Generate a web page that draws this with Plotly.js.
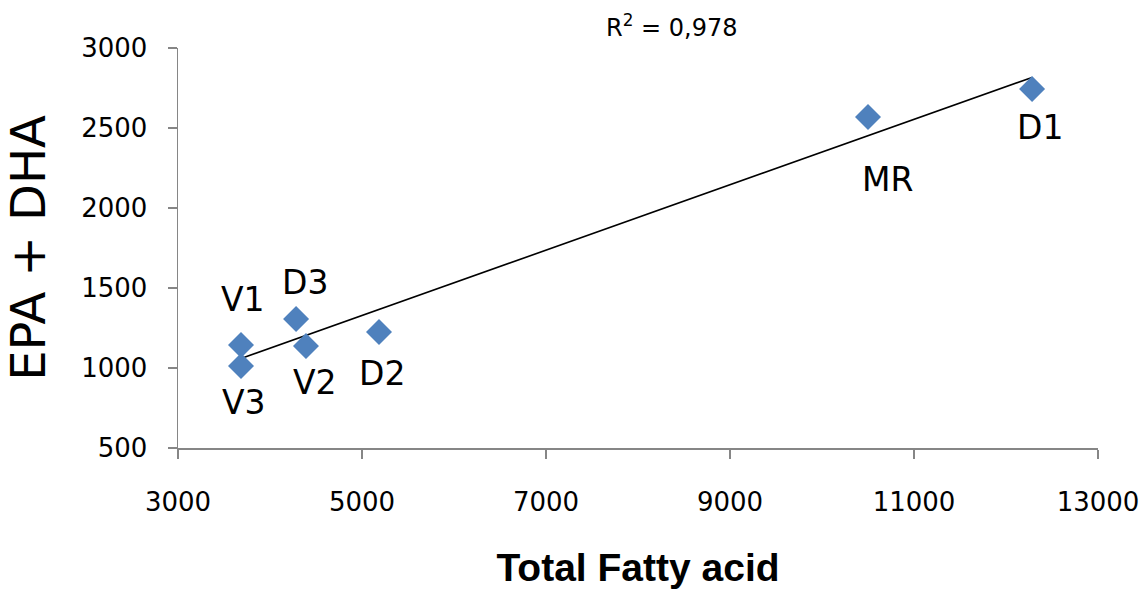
<!DOCTYPE html>
<html>
<head>
<meta charset="utf-8">
<script src="https://cdn.plot.ly/plotly-3.0.1.min.js"></script>
<style>html,body{margin:0;padding:0;background:#fff;}#chart{width:1146px;height:593px;}</style>
</head>
<body>
<div id="chart"></div>
<script>
// Data
const sampleNames = ["V1", "V3", "D3", "V2", "D2", "MR", "D1"];
const totalFattyAcid = [3685, 3685, 4283, 4391, 5185, 10500, 12283];
const epaDha = [1144, 1012, 1306, 1137, 1225, 2569, 2744];
const xTicks = [3000, 5000, 7000, 9000, 11000, 13000];
const yTicks = [500, 1000, 1500, 2000, 2500, 3000];
const r2Label = "R<sup>2</sup> = 0,978";

// Label offsets (px) relative to each point: [xshift, yshift]
const labelOffsets = [[2, 45], [3, -36], [9, 37], [9, -36], [3, -41], [19, -63], [8, -39]];

// Linear least-squares trendline computed from the data
const n = totalFattyAcid.length;
const mx = totalFattyAcid.reduce((a, b) => a + b, 0) / n;
const my = epaDha.reduce((a, b) => a + b, 0) / n;
let sxy = 0, sxx = 0;
for (let i = 0; i < n; i++) {
  sxy += (totalFattyAcid[i] - mx) * (epaDha[i] - my);
  sxx += (totalFattyAcid[i] - mx) ** 2;
}
const slope = sxy / sxx;
const intercept = my - slope * mx;
const xMin = Math.min(...totalFattyAcid), xMax = Math.max(...totalFattyAcid);
const trendX = [xMin, xMax];
const trendY = trendX.map(x => intercept + slope * x);

const FONT = '"DejaVu Sans", sans-serif';
const BOLDFONT = '"Liberation Sans", Arial, sans-serif';

const traces = [
  {
    x: trendX, y: trendY, type: 'scatter', mode: 'lines',
    line: {color: '#000000', width: 1.6}, hoverinfo: 'skip', showlegend: false
  },
  {
    x: totalFattyAcid, y: epaDha, type: 'scatter', mode: 'markers',
    marker: {symbol: 'diamond', size: 20, color: '#4F81BD'},
    text: sampleNames, showlegend: false
  }
];

const annotations = sampleNames.map((s, i) => ({
  x: totalFattyAcid[i], y: epaDha[i], xref: 'x', yref: 'y',
  text: s, showarrow: false,
  xshift: labelOffsets[i][0], yshift: labelOffsets[i][1],
  font: {family: FONT, size: 33, color: '#000000'}
}));
annotations.push({
  xref: 'paper', yref: 'paper', x: 0.536, y: 1.0, yanchor: 'bottom', xanchor: 'center',
  yshift: 4, text: r2Label, showarrow: false,
  font: {family: FONT, size: 24, color: '#000000'}
});

const layout = {
  width: 1146, height: 593,
  margin: {l: 178, r: 48, t: 48, b: 145},
  paper_bgcolor: '#ffffff', plot_bgcolor: '#ffffff',
  showlegend: false,
  xaxis: {
    range: [3000, 13000], tickvals: xTicks, ticktext: xTicks.map(String),
    showgrid: false, zeroline: false, showline: true, linecolor: '#868686', linewidth: 1.5,
    ticks: 'outside', ticklen: 9, tickcolor: '#868686', tickwidth: 1.5,
    ticklabelstandoff: 21,
    tickfont: {family: FONT, size: 26, color: '#000000'},
    title: {text: '<b>Total Fatty acid</b>', font: {family: BOLDFONT, size: 39, color: '#000000'}, standoff: 38},
    automargin: false
  },
  yaxis: {
    range: [500, 3000], tickvals: yTicks, ticktext: yTicks.map(String),
    showgrid: false, zeroline: false, showline: true, linecolor: '#868686', linewidth: 1.5,
    ticks: 'outside', ticklen: 9, tickcolor: '#868686', tickwidth: 1.5,
    ticklabelstandoff: 15,
    tickfont: {family: FONT, size: 26, color: '#000000'},
    title: {text: 'EPA + DHA', font: {family: FONT, size: 48, color: '#000000'}, standoff: 20},
    automargin: false
  },
  annotations: annotations
};

Plotly.newPlot('chart', traces, layout, {displayModeBar: false, staticPlot: true});
</script>
</body>
</html>
